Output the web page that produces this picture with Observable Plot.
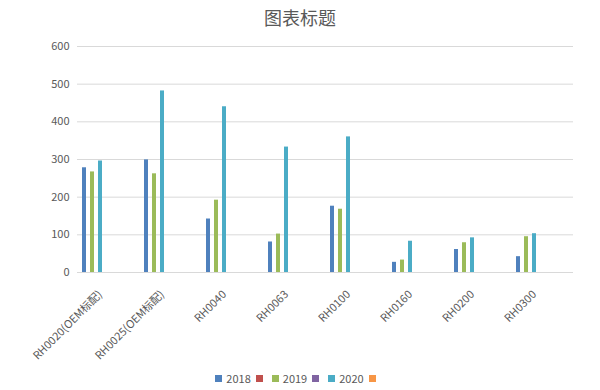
<!DOCTYPE html>
<html><head><meta charset="utf-8">
<script src="https://cdn.jsdelivr.net/npm/d3@7"></script>
<script src="https://cdn.jsdelivr.net/npm/@observablehq/plot@0.6"></script>
<style>
body{margin:0;background:#fff;font-family:"Noto Sans CJK SC","Noto Sans",sans-serif;}
#wrap{width:600px;}
#title{height:36px;line-height:34px;text-align:center;font-size:18px;color:#595959;}
#legend{display:flex;justify-content:center;align-items:center;font-size:11px;color:#595959;height:24px;}
.sw{width:7px;height:7px;display:inline-block;margin-right:4px;}
.item{display:flex;align-items:center;margin-right:5px;}
</style></head><body>
<div id="wrap"><div id="title"></div><div id="chart"></div><div id="legend"></div></div>
<script>
const title = "图表标题";
const categories = ["RH0020(OEM标配)", "RH0025(OEM标配)", "RH0040", "RH0063", "RH0100", "RH0160", "RH0200", "RH0300"];
const seriesNames = ["2018", "", "2019", "", "2020", ""];
const seriesColors = ["#4F81BD", "#C0504D", "#9BBB59", "#8064A2", "#4BACC6", "#F79646"];
const v2018 = [278, 299, 142, 81, 176, 27, 61, 42];
const v2019 = [267, 262, 192, 102, 168, 33, 79, 95];
const v2020 = [296, 482, 440, 333, 360, 83, 92, 103];
const seriesValues = [v2018, [], v2019, [], v2020, []];
const yTicks = [0, 100, 200, 300, 400, 500, 600];

document.getElementById("title").textContent = title;

const rows = [];
seriesValues.forEach((vals, s) => vals.forEach((v, i) => rows.push({category: categories[i], slot: s, value: v})));

const mL = 75;
const chart = Plot.plot({
  width: 600, height: 330,
  marginLeft: mL, marginRight: 25, marginTop: 10, marginBottom: 94,
  style: {fontFamily: '"Noto Sans CJK SC","Noto Sans",sans-serif', fontSize: "11px", color: "#595959", background: "white"},
  fx: {domain: categories, padding: 0, label: null, axis: null},
  x: {type: "band", domain: d3.range(seriesNames.length), range: [mL + 3.3, mL + 29.7], padding: 0, axis: null},
  y: {domain: [0, 600], ticks: yTicks, label: null, tickSize: 0, tickPadding: 8},
  color: {type: "ordinal", domain: d3.range(seriesNames.length), range: seriesColors},
  marks: [
    Plot.gridY(yTicks, {stroke: "#d9d9d9", strokeOpacity: 1}),
    Plot.axisFx({anchor: "bottom", tickSize: 0, tickRotate: -45, tickPadding: 20, dx: -8, label: null, fontSize: 11}),
    Plot.barY(rows, {fx: "category", x: "slot", y: "value", fill: "slot"})
  ]
});
document.getElementById("chart").appendChild(chart);

const legend = document.getElementById("legend");
seriesNames.forEach((name, i) => {
  const item = document.createElement("div");
  item.className = "item";
  const sw = document.createElement("span");
  sw.className = "sw";
  sw.style.background = seriesColors[i];
  item.appendChild(sw);
  const t = document.createElement("span");
  t.textContent = name;
  item.appendChild(t);
  legend.appendChild(item);
});
</script>
</body></html>
